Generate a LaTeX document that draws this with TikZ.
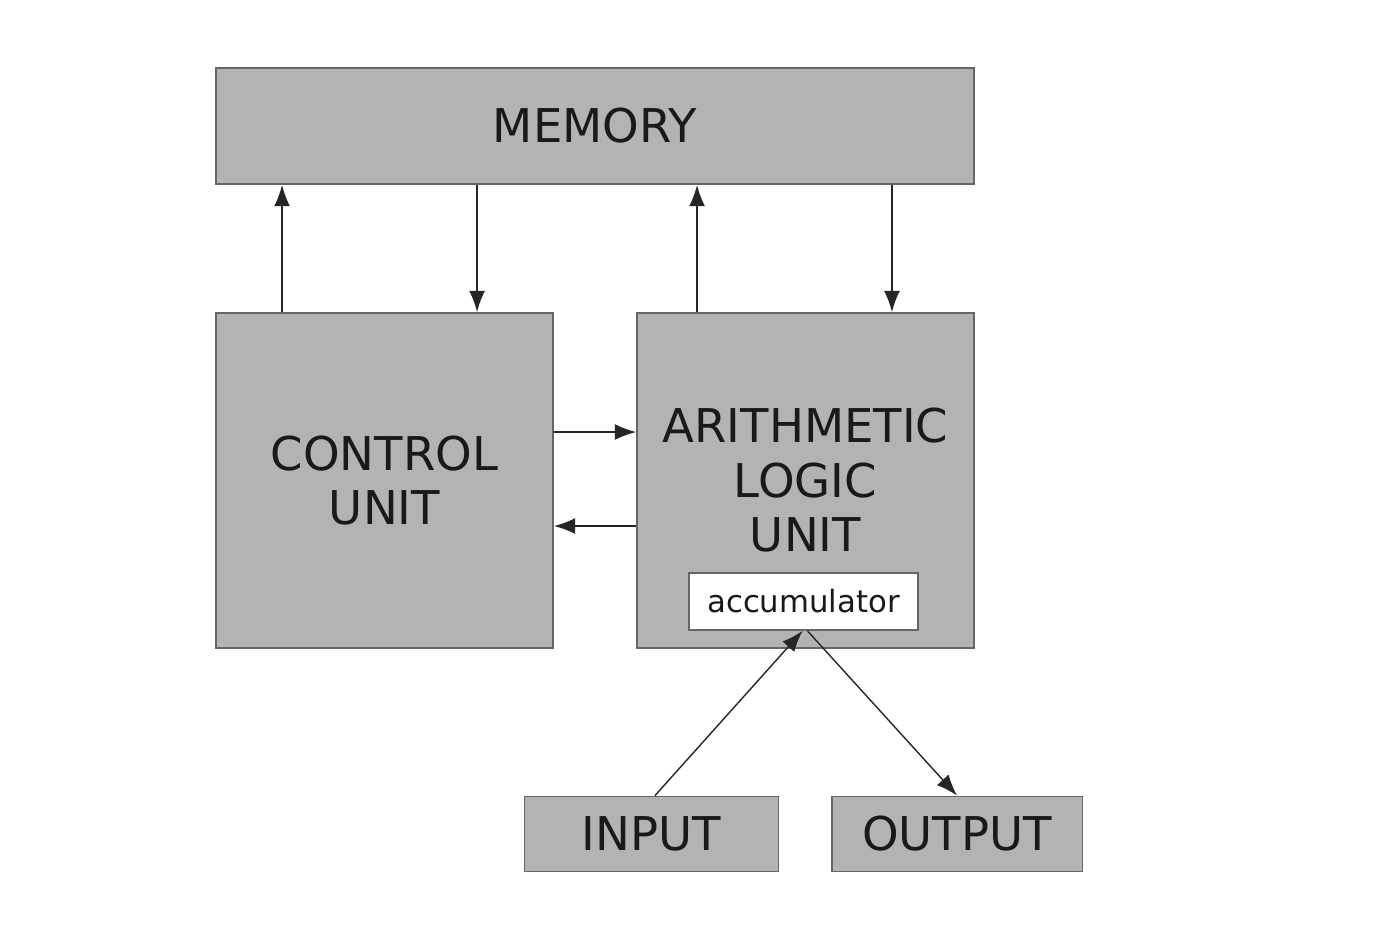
\documentclass[tikz,border=0pt]{standalone}
\usepackage{fontspec}
\setmainfont{DejaVu Sans}
\usetikzlibrary{arrows.meta}
\definecolor{boxgray}{HTML}{B3B3B3}
\definecolor{edgegray}{HTML}{666666}
\begin{document}
\begin{tikzpicture}[x=0.02cm,y=-0.02cm,
  unit/.style={draw=edgegray,fill=boxgray,line width=1.1pt,align=center,
    font=\fontsize{26.5}{31}\selectfont,inner sep=0pt,text=black!90},
  conn/.style={draw=black!85,line width=0.8pt,-{Latex[length=12pt,width=9pt]}}]
  \useasboundingbox (0,0) rectangle (1396,952);
  \node[unit,minimum width=15.16cm,minimum height=2.32cm] (mem) at (595,126) {MEMORY};
  \node[unit,minimum width=6.74cm,minimum height=6.7cm] (cu) at (384.5,480.5) {CONTROL\\UNIT};
  \node[unit,minimum width=6.74cm,minimum height=6.7cm] (alu) at (805.5,480.5) {ARITHMETIC\\LOGIC\\UNIT};
  \node[draw=edgegray,fill=white,line width=1.1pt,minimum width=4.58cm,minimum height=1.14cm,
    font=\fontsize{17.5}{20}\selectfont,inner sep=0pt,text=black!90] (acc) at (803.5,601.5) {accumulator};
  \node[unit,minimum width=5.08cm,minimum height=1.5cm] (inp) at (651.5,834) {INPUT};
  \node[unit,minimum width=5.02cm,minimum height=1.5cm] (outp) at (957,834) {OUTPUT};
  \draw[conn] ([xshift=1.34cm]cu.north west) -- ([xshift=1.34cm]cu.north west |- mem.south);
  \draw[conn] ([xshift=5.24cm]mem.south west) -- ([xshift=5.24cm]mem.south west |- cu.north);
  \draw[conn] ([xshift=1.22cm]alu.north west) -- ([xshift=1.22cm]alu.north west |- mem.south);
  \draw[conn] ([xshift=13.54cm]mem.south west) -- ([xshift=13.54cm]mem.south west |- alu.north);
  \draw[conn] ([yshift=-2.4cm]cu.north east) -- ([yshift=-2.4cm]cu.north east -| alu.west);
  \draw[conn] ([yshift=-4.28cm]alu.north west) -- ([yshift=-4.28cm]alu.north west -| cu.east);
  \draw[conn] ([xshift=0.07cm]inp.north) -- ([xshift=-0.02cm]acc.south);
  \draw[conn] ([xshift=0.08cm]acc.south) -- (outp.north);
\end{tikzpicture}
\end{document}
